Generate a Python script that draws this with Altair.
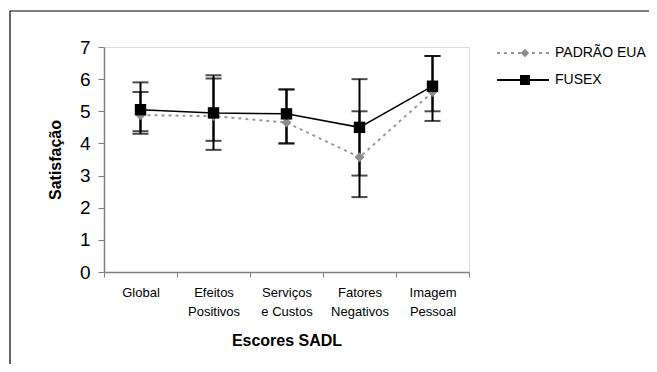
import altair as alt
import pandas as pd

categories = ["Global", "Efeitos Positivos", "Serviços e Custos", "Fatores Negativos", "Imagem Pessoal"]
series = ["PADRÃO EUA", "FUSEX"]
padrao = [4.88, 4.85, 4.65, 3.57, 5.6]
fusex = [5.05, 4.95, 4.92, 4.5, 5.78]
padrao_lo = [4.38, 4.08, 4.0, 2.33, 5.0]
padrao_hi = [5.6, 6.02, 5.68, 5.0, 6.72]
fusex_lo = [4.3, 3.8, 4.0, 3.0, 4.7]
fusex_hi = [5.9, 6.12, 5.68, 6.0, 6.72]

FONT = "Liberation Sans"

rows = []
for i, c in enumerate(categories):
    rows.append({"cat": c, "serie": series[0], "val": padrao[i], "lo": padrao_lo[i], "hi": padrao_hi[i]})
    rows.append({"cat": c, "serie": series[1], "val": fusex[i], "lo": fusex_lo[i], "hi": fusex_hi[i]})
df = pd.DataFrame(rows)

xaxis = alt.Axis(
    title="Escores SADL",
    labelAngle=0,
    tickBand="extent",
    tickSize=5,
    labelPadding=9,
    labelFont=FONT,
    labelFontSize=13,
    labelLineHeight=19,
    labelColor="black",
    labelExpr="datum.label == 'Serviços e Custos' ? ['Serviços', 'e Custos'] : split(datum.label, ' ')",
    titleFont=FONT,
    titleFontSize=16,
    titleFontWeight="bold",
    titlePadding=14,
    domainColor="#808080",
    domainWidth=1.5,
    tickColor="#808080",
    tickWidth=1,
)
xscale = alt.Scale(type="band", paddingInner=0, paddingOuter=0)
xenc = alt.X("cat:N", sort=categories, scale=xscale, axis=xaxis)

yscale = alt.Scale(domain=[0, 7], nice=False)
yaxis = alt.Axis(
    title="Satisfação",
    values=[0, 1, 2, 3, 4, 5, 6, 7],
    tickSize=6,
    labelPadding=8,
    labelFont=FONT,
    labelFontSize=19,
    labelColor="black",
    titleFont=FONT,
    titleFontSize=16,
    titleFontWeight="bold",
    titlePadding=16,
    domainColor="#808080",
    domainWidth=1.5,
    tickColor="#808080",
    grid=False,
)


def Y(field):
    return alt.Y(field, scale=yscale, axis=yaxis)


base = alt.Chart(df)

bars = base.mark_rule(color="black", strokeWidth=2).encode(
    x=xenc, y=Y("lo:Q"), y2="hi:Q"
)
caps_lo = base.mark_tick(color="black", thickness=2, size=16, orient="horizontal").encode(
    x=xenc, y=Y("lo:Q")
)
caps_hi = base.mark_tick(color="black", thickness=2, size=16, orient="horizontal").encode(
    x=xenc, y=Y("hi:Q")
)

pdf = base.transform_filter(alt.datum.serie == series[0])
fdf = base.transform_filter(alt.datum.serie == series[1])

p_line = pdf.mark_line(color="#999999", strokeWidth=2, strokeDash=[3, 4]).encode(
    x=xenc, y=Y("val:Q")
)
p_pts = pdf.mark_point(shape="diamond", filled=True, color="#8c8c8c", size=100, opacity=1).encode(
    x=xenc, y=Y("val:Q")
)
f_line = fdf.mark_line(color="black", strokeWidth=1.5).encode(
    x=xenc, y=Y("val:Q")
)
f_pts = fdf.mark_point(shape="square", filled=True, color="black", size=130, opacity=1).encode(
    x=xenc, y=Y("val:Q")
)

# custom legend
ld0 = alt.Chart(pd.DataFrame({"s": [series[0]]}))
ld1 = alt.Chart(pd.DataFrame({"s": [series[1]]}))
leg = [
    ld0.mark_rule(color="#999999", strokeWidth=2, strokeDash=[3, 4]).encode(
        x=alt.value(393), x2=alt.value(445), y=alt.value(6)),
    ld0.mark_point(shape="diamond", filled=True, color="#8c8c8c", size=70, opacity=1).encode(
        x=alt.value(421), y=alt.value(6)),
    ld0.mark_text(align="left", baseline="middle", font=FONT, fontSize=14, color="black").encode(
        x=alt.value(451), y=alt.value(6), text="s:N"),
    ld1.mark_rule(color="black", strokeWidth=2).encode(
        x=alt.value(393), x2=alt.value(445), y=alt.value(33)),
    ld1.mark_point(shape="square", filled=True, color="black", size=100, opacity=1).encode(
        x=alt.value(421), y=alt.value(33)),
    ld1.mark_text(align="left", baseline="middle", font=FONT, fontSize=14, color="black").encode(
        x=alt.value(451), y=alt.value(33), text="s:N"),
]

frame = ld0.mark_rect(fillOpacity=0, stroke="black", strokeWidth=1.2).encode(
    x=alt.value(-94), x2=alt.value(560), y=alt.value(-36), y2=alt.value(330)
)

chart = alt.layer(
    frame, bars, caps_lo, caps_hi, p_line, p_pts, f_line, f_pts, *leg
).properties(
    width=365,
    height=225,
    autosize=alt.AutoSizeParams(type="none"),
    padding={"left": 96, "top": 39, "right": 180, "bottom": 92},
).configure_view(
    stroke="#999999", strokeWidth=1
).configure(background="white")

chart.save("out.html", embed_options={"renderer": "svg", "actions": False})
